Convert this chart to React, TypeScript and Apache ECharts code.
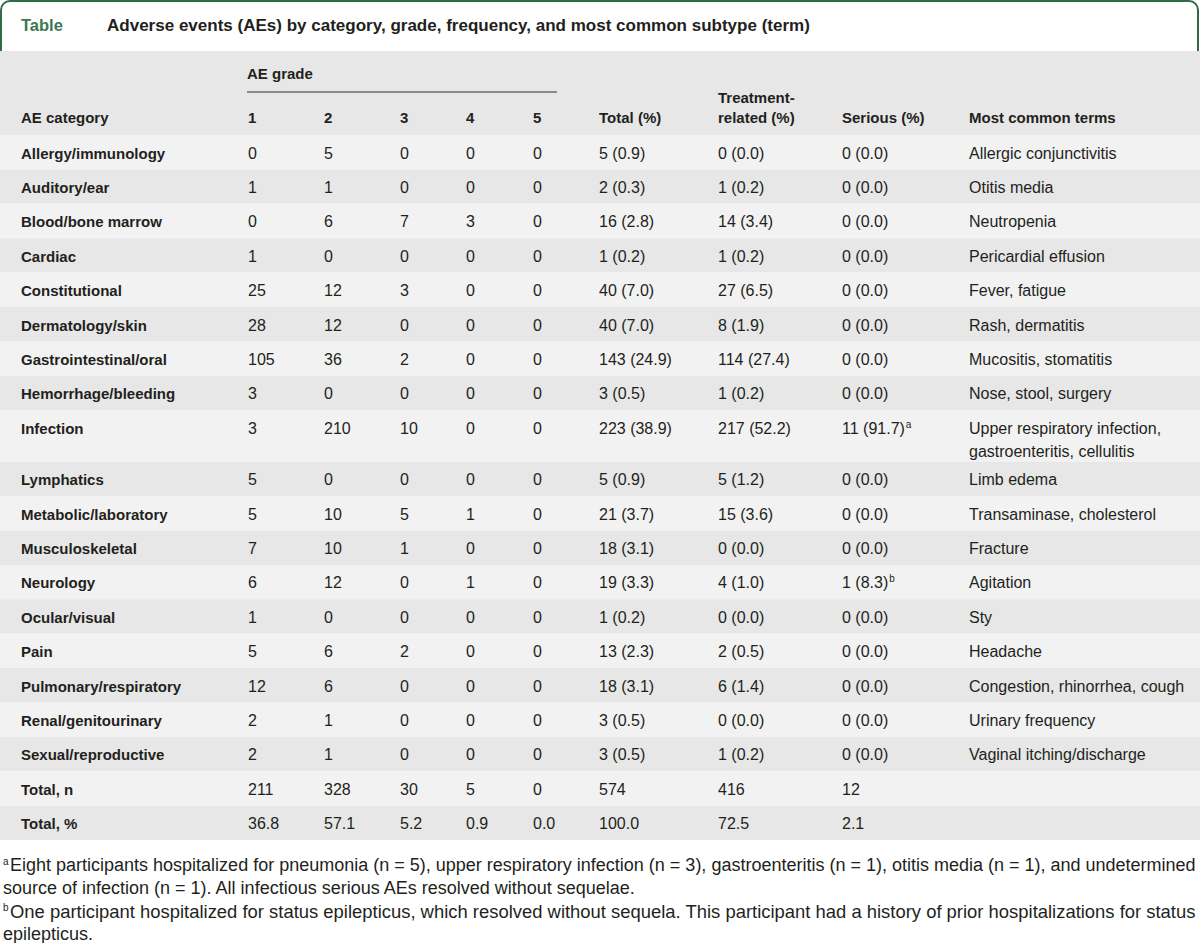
import React, { useEffect, useRef } from "react";
import * as echarts from "echarts";

const titleLabel = "Table";
const titleText = "Adverse events (AEs) by category, grade, frequency, and most common subtype (term)";

const headerGroup = "AE grade";
const headerCategory = "AE category";
const gradeHeaders = ["1", "2", "3", "4", "5"];
const headerTotal = "Total (%)";
const headerTreatment = ["Treatment-", "related (%)"];
const headerSerious = "Serious (%)";
const headerTerms = "Most common terms";

const categories = [
  "Allergy/immunology", "Auditory/ear", "Blood/bone marrow", "Cardiac", "Constitutional",
  "Dermatology/skin", "Gastrointestinal/oral", "Hemorrhage/bleeding", "Infection", "Lymphatics",
  "Metabolic/laboratory", "Musculoskeletal", "Neurology", "Ocular/visual", "Pain",
  "Pulmonary/respiratory", "Renal/genitourinary", "Sexual/reproductive",
];
const grade1 = ["0", "1", "0", "1", "25", "28", "105", "3", "3", "5", "5", "7", "6", "1", "5", "12", "2", "2"];
const grade2 = ["5", "1", "6", "0", "12", "12", "36", "0", "210", "0", "10", "10", "12", "0", "6", "6", "1", "1"];
const grade3 = ["0", "0", "7", "0", "3", "0", "2", "0", "10", "0", "5", "1", "0", "0", "2", "0", "0", "0"];
const grade4 = ["0", "0", "3", "0", "0", "0", "0", "0", "0", "0", "1", "0", "1", "0", "0", "0", "0", "0"];
const grade5 = ["0", "0", "0", "0", "0", "0", "0", "0", "0", "0", "0", "0", "0", "0", "0", "0", "0", "0"];
const totalPct = ["5 (0.9)", "2 (0.3)", "16 (2.8)", "1 (0.2)", "40 (7.0)", "40 (7.0)", "143 (24.9)", "3 (0.5)", "223 (38.9)", "5 (0.9)", "21 (3.7)", "18 (3.1)", "19 (3.3)", "1 (0.2)", "13 (2.3)", "18 (3.1)", "3 (0.5)", "3 (0.5)"];
const treatmentRelated = ["0 (0.0)", "1 (0.2)", "14 (3.4)", "1 (0.2)", "27 (6.5)", "8 (1.9)", "114 (27.4)", "1 (0.2)", "217 (52.2)", "5 (1.2)", "15 (3.6)", "0 (0.0)", "4 (1.0)", "0 (0.0)", "2 (0.5)", "6 (1.4)", "0 (0.0)", "1 (0.2)"];
const serious = ["0 (0.0)", "0 (0.0)", "0 (0.0)", "0 (0.0)", "0 (0.0)", "0 (0.0)", "0 (0.0)", "0 (0.0)", "11 (91.7)", "0 (0.0)", "0 (0.0)", "0 (0.0)", "1 (8.3)", "0 (0.0)", "0 (0.0)", "0 (0.0)", "0 (0.0)", "0 (0.0)"];
const seriousNote = ["", "", "", "", "", "", "", "", "a", "", "", "", "b", "", "", "", "", ""];
const commonTerms = [
  ["Allergic conjunctivitis"], ["Otitis media"], ["Neutropenia"], ["Pericardial effusion"], ["Fever, fatigue"],
  ["Rash, dermatitis"], ["Mucositis, stomatitis"], ["Nose, stool, surgery"],
  ["Upper respiratory infection,", "gastroenteritis, cellulitis"],
  ["Limb edema"], ["Transaminase, cholesterol"], ["Fracture"], ["Agitation"], ["Sty"], ["Headache"],
  ["Congestion, rhinorrhea, cough"], ["Urinary frequency"], ["Vaginal itching/discharge"],
];

const totalLabels = ["Total, n", "Total, %"];
const totalByGrade = [
  ["211", "328", "30", "5", "0"],
  ["36.8", "57.1", "5.2", "0.9", "0.0"],
];
const totalAll = ["574", "100.0"];
const totalTreatment = ["416", "72.5"];
const totalSerious = ["12", "2.1"];

const footnoteMarks = ["a", "b"];
const footnoteLines = [
  ["Eight participants hospitalized for pneumonia (n = 5), upper respiratory infection (n = 3), gastroenteritis (n = 1), otitis media (n = 1), and undetermined",
    "source of infection (n = 1). All infectious serious AEs resolved without sequelae."],
  ["One participant hospitalized for status epilepticus, which resolved without sequela. This participant had a history of prior hospitalizations for status",
    "epilepticus."],
];

const GREEN = "#2f6b48";
const GREEN_TEXT = "#3a7853";
const INK = "#231f20";
const LIGHT = "#f2f2f2";
const DARK = "#e6e7e6";
const FONT = "'Liberation Sans', Arial, sans-serif";

function measure(text: string, font: string): number {
  const c = document.createElement("canvas");
  const ctx = c.getContext("2d");
  if (!ctx) return text.length * 8;
  ctx.font = font;
  return ctx.measureText(text).width;
}

export default function App() {
  const ref = useRef<HTMLDivElement>(null);
  useEffect(() => {
    if (!ref.current) return;
    const chart = echarts.init(ref.current, undefined, { renderer: "svg" });
    const els: any[] = [];

    // title frame
    els.push({ type: "rect", shape: { x: 1, y: 1, width: 1197, height: 80, r: [9, 9, 0, 0] }, style: { fill: "#fff", stroke: GREEN, lineWidth: 2 } });
    els.push({ type: "text", x: 21, y: 25, style: { text: titleLabel, font: `bold 16.5px ${FONT}`, fill: GREEN_TEXT, verticalAlign: "middle" } });
    const tW = measure(titleText, "bold 16px 'Liberation Sans'");
    const tFs = 16 * 703 / tW;
    els.push({ type: "text", x: 107, y: 25, style: { text: titleText, font: `bold ${tFs.toFixed(2)}px ${FONT}`, fill: INK, verticalAlign: "middle" } });

    // header band
    const HEAD_TOP = 51, TOP = 135;
    els.push({ type: "rect", shape: { x: 0, y: HEAD_TOP, width: 1200, height: TOP - HEAD_TOP }, style: { fill: DARK } });

    const colCat = 21;
    const colGrades = [248, 324, 400, 466, 533];
    const colTotal = 599, colTreat = 718, colSer = 842, colTerms = 969;
    const bold = `bold 15px ${FONT}`;
    const reg = `16px ${FONT}`;
    const txt = (t: string, x: number, y: number, font: string, extra: any = {}) =>
      els.push({ type: "text", x, y, style: { text: t, font, fill: INK, verticalAlign: "middle", ...extra } });

    txt(headerGroup, 247, 73, bold);
    els.push({ type: "line", shape: { x1: 247, y1: 92, x2: 557, y2: 92 }, style: { stroke: "#6d6d6d", lineWidth: 1.5 } });
    const hy = 117;
    txt(headerCategory, colCat, hy, bold);
    gradeHeaders.forEach((g, i) => txt(g, colGrades[i], hy, bold));
    txt(headerTotal, colTotal, hy, bold);
    txt(headerTreatment[0], colTreat, 97, bold);
    txt(headerTreatment[1], colTreat, hy, bold);
    txt(headerSerious, colSer, hy, bold);
    txt(headerTerms, colTerms, hy, bold);

    const ROW_H = 34.4, INF_H = 51.5;
    let y = TOP;
    const grades = [grade1, grade2, grade3, grade4, grade5];
    categories.forEach((cat, i) => {
      const h = commonTerms[i].length > 1 ? INF_H : ROW_H;
      els.push({ type: "rect", shape: { x: 0, y, width: 1200, height: h }, style: { fill: i % 2 === 0 ? LIGHT : DARK } });
      const cy = y + 18;
      txt(cat, colCat, cy, bold);
      grades.forEach((g, k) => txt(g[i], colGrades[k], cy, reg));
      txt(totalPct[i], colTotal, cy, reg);
      txt(treatmentRelated[i], colTreat, cy, reg);
      if (seriousNote[i]) {
        els.push({
          type: "text", x: colSer, y: cy,
          style: {
            text: `{m|${serious[i]}}{s|${seriousNote[i]}}`, fill: INK, verticalAlign: "middle",
            rich: { m: { font: reg, fill: INK, lineHeight: 18 }, s: { font: `10px ${FONT}`, fill: INK, lineHeight: 10, verticalAlign: "top", padding: [0, 0, 0, 1] } },
          },
        });
      } else {
        txt(serious[i], colSer, cy, reg);
      }
      commonTerms[i].forEach((t, k) => txt(t, colTerms, cy + k * 23, reg));
      y += h;
    });
    totalLabels.forEach((lab, r) => {
      const i = categories.length + r;
      els.push({ type: "rect", shape: { x: 0, y, width: 1200, height: ROW_H }, style: { fill: i % 2 === 0 ? LIGHT : DARK } });
      const cy = y + 18;
      txt(lab, colCat, cy, bold);
      totalByGrade[r].forEach((v, k) => txt(v, colGrades[k], cy, reg));
      txt(totalAll[r], colTotal, cy, reg);
      txt(totalTreatment[r], colTreat, cy, reg);
      txt(totalSerious[r], colSer, cy, reg);
      y += ROW_H;
    });

    // footnotes (first line of each note is justified to the full width)
    const fW = measure(footnoteLines[0][0], "16px 'Liberation Sans'");
    const fFs = 16 * 1186 / fW;
    const fnFont = `${fFs.toFixed(2)}px ${FONT}`;
    const fy = [865, 888, 911, 934];
    footnoteLines.forEach((lines, n) => {
      const y1 = fy[n * 2], y2 = fy[n * 2 + 1];
      const w1 = measure(lines[0], "16px 'Liberation Sans'");
      const fs1 = Math.min(16 * 1186 / w1, fFs * 1.03);
      els.push({ type: "text", x: 3, y: y1 - 4, style: { text: footnoteMarks[n], font: `10px ${FONT}`, fill: INK, verticalAlign: "middle" } });
      txt(lines[0], 10, y1, `${fs1.toFixed(2)}px ${FONT}`);
      txt(lines[1], 3, y2, fnFont);
    });

    chart.setOption({ animation: false, graphic: { elements: els } });
    return () => chart.dispose();
  }, []);
  return <div ref={ref} style={{ position: "absolute", left: 0, top: 0, width: 1200, height: 943, background: "#fff" }} />;
}
